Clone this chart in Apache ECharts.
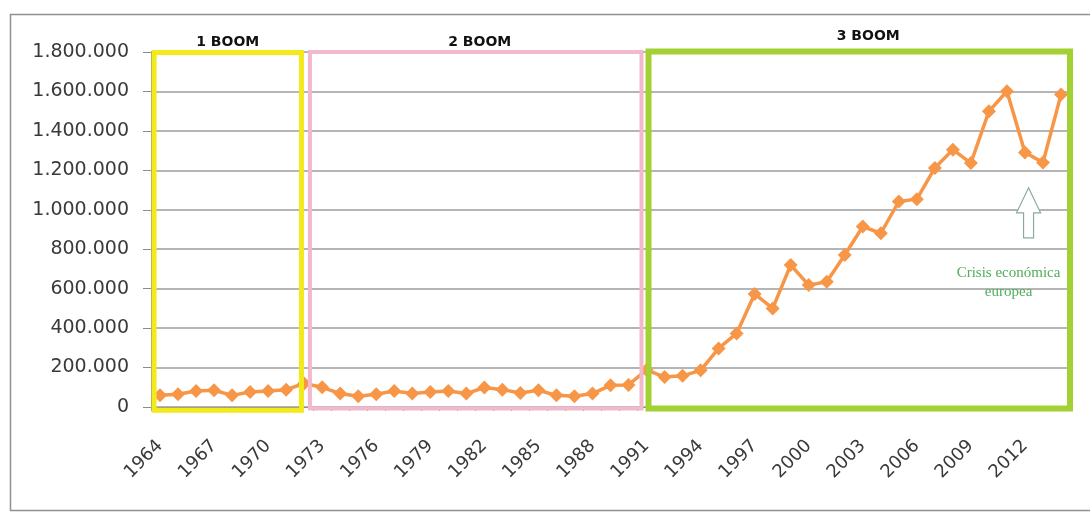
<!DOCTYPE html>
<html>
<head>
<meta charset="utf-8">
<script src="https://cdn.jsdelivr.net/npm/echarts@6/dist/echarts.min.js"></script>
<style>
html,body{margin:0;padding:0;background:#fff;}
#chart{width:1090px;height:513px;}
</style>
</head>
<body>
<div id="chart"></div>
<script>
// ---- data ----
const years = ['1964','1965','1966','1967','1968','1969','1970','1971','1972','1973',
  '1974','1975','1976','1977','1978','1979','1980','1981','1982','1983',
  '1984','1985','1986','1987','1988','1989','1990','1991','1992','1993',
  '1994','1995','1996','1997','1998','1999','2000','2001','2002','2003',
  '2004','2005','2006','2007','2008','2009','2010','2011','2012','2013','2014'];
const values = [59000,65000,81000,85000,59000,76000,81000,88000,119000,100000,
  68000,54000,65000,81000,68000,76000,81000,68000,99000,88000,
  71000,85000,59000,54000,68000,110000,112000,188000,152000,158000,
  186000,297000,373000,573000,500000,720000,618000,635000,771000,915000,
  881000,1042000,1054000,1212000,1305000,1237000,1499000,1601000,1291000,1240000,1584000];
const periodNames = ['1 BOOM','2 BOOM','3 BOOM'];
const periodStart = [1963.67, 1972.32, 1991.11];
const periodEnd = [1971.85, 1990.72, 2014.5];
const yTicks = [0,200000,400000,600000,800000,1000000,1200000,1400000,1600000,1800000];
const noteLines = ['Crisis económica','europea'];

// ---- styles ----
const periodColors = ['#F2EA1A','#F2B9CD','#A3D133'];
const periodWidths = [5,4,6];
const periodBottom = [-16000,-7000,-7000];
const periodTop = [1797000,1800000,1802000];
const periodLabelOffset = [[0,0],[4,0],[9,-4]];

const G = {left:151, right:20, top:52, bottom:106};
const yMax = 1800000, yPad = 40000;
const plotH = 513 - G.top - G.bottom;
const padPx = plotH * yPad / yMax;

function fmt(v){ return String(v).replace(/\B(?=(\d{3})+(?!\d))/g,'.'); }

const chart = echarts.init(document.getElementById('chart'), null, {renderer:'canvas'});

const areas = periodNames.map((n,i)=>[
  {name:n, coord:[periodStart[i], periodTop[i]],
   itemStyle:{color:'rgba(0,0,0,0)', borderColor:periodColors[i], borderWidth:periodWidths[i]},
   label:{offset:periodLabelOffset[i]}},
  {coord:[periodEnd[i], periodBottom[i]]}
]);

chart.setOption({
  animation:false,
  backgroundColor:'#ffffff',
  grid:[
    {left:G.left, right:G.right, top:G.top, bottom:G.bottom, containLabel:false},
    {left:G.left, right:G.right, top:G.top - padPx, bottom:G.bottom - padPx, containLabel:false}
  ],
  xAxis:[{
    type:'category', data:years, boundaryGap:true, gridIndex:0,
    axisLine:{show:true, lineStyle:{color:'#8c8c8c', width:1}},
    axisTick:{show:true, interval:0, length:4, lineStyle:{color:'#8c8c8c'}},
    axisLabel:{interval:2, rotate:45, margin:36, fontFamily:'DejaVu Sans', fontSize:18, color:'#3a3a3a'},
    splitLine:{show:false}
  },{
    type:'value', min:1963.5, max:2014.5, show:false, gridIndex:1
  }],
  yAxis:[{
    type:'value', min:0, max:yMax, interval:200000, gridIndex:0,
    axisLine:{show:true, lineStyle:{color:'#8c8c8c'}},
    axisTick:{show:true, length:8, lineStyle:{color:'#8c8c8c'}},
    axisLabel:{margin:22, fontFamily:'DejaVu Sans', fontSize:19, color:'#3a3a3a', formatter:fmt},
    splitLine:{show:true, lineStyle:{color:'#9c9c9c', width:1.5}}
  },{
    type:'value', min:-yPad, max:yMax + yPad, show:false, gridIndex:1
  }],
  series:[{
    type:'line', data:values, xAxisIndex:0, yAxisIndex:0, z:2,
    symbol:'diamond', symbolSize:14, showSymbol:true, showAllSymbol:true,
    lineStyle:{color:'#F79646', width:3.5},
    itemStyle:{color:'#F79646', borderWidth:0}
  },{
    type:'line', data:[], xAxisIndex:1, yAxisIndex:1, clip:false, z:5, silent:true,
    markArea:{
      silent:true, z:10,
      label:{show:true, position:'top', distance:1, fontFamily:'DejaVu Sans', fontWeight:'bold', fontSize:14, color:'#111'},
      data:areas
    }
  }]
});

// annotation: arrow + note
const anchor = chart.convertToPixel({xAxisIndex:1, yAxisIndex:1}, [2012.2, 1000000]);
const ax = anchor[0], ay = anchor[1];
chart.setOption({
  graphic:[
    {type:'rect', silent:true, z:100, shape:{x:10.5, y:14.5, width:1100, height:496},
     style:{fill:'none', stroke:'#8f8f8f', lineWidth:1.5}},
    {type:'polygon', silent:true, z:100,
     shape:{points:[[ax,ay-22],[ax+12,ay+3],[ax+5,ay+3],[ax+5,ay+28],[ax-5,ay+28],[ax-5,ay+3],[ax-12,ay+3]]},
     style:{fill:'#ffffff', stroke:'#8aaa9f', lineWidth:1.2}},
    {type:'text', silent:true, z:100, x:ax-20, y:ay+54,
     style:{text:noteLines.join('\n'), fontFamily:'Liberation Serif', fontSize:15, lineHeight:19,
            fill:'#4fae5a', align:'center', verticalAlign:'top'}}
  ]
});
</script>
</body>
</html>
